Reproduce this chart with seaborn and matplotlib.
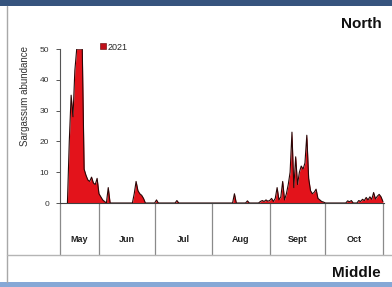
import matplotlib
matplotlib.use('Agg')
import matplotlib.pyplot as plt
import matplotlib.transforms as mtransforms
from matplotlib.lines import Line2D
from matplotlib.patches import Rectangle
import seaborn as sns
import pandas as pd

sns.set_theme(style='white')
plt.rcParams['font.family'] = ['Liberation Sans', 'DejaVu Sans']

# ---- data: day index counted from 11 May 2021, Sargassum abundance ----
may_days = [4, 5, 6, 7, 8, 9, 10, 11, 12, 13, 14, 15, 16, 17, 18, 19, 20, 21, 22, 23, 24, 25, 26, 27]
may_vals = [0, 20, 35, 28, 43, 50, 50, 50, 50, 11, 9, 7.5, 7, 8.4, 6.5, 6, 8, 3, 2, 1, 0.5, 0, 5, 0]
jun_days = [39, 40, 41, 42, 43, 44, 45, 46]
jun_vals = [0, 3, 7, 4, 3, 2.5, 1.5, 0]
jul_days = [51, 52, 53, 62, 63, 64]
jul_vals = [0, 1, 0, 0, 0.8, 0]
aug_days = [93, 94, 95, 100, 101, 102, 107, 108, 109, 110, 111, 112]
aug_vals = [0, 3, 0, 0, 0.7, 0, 0, 0.5, 0.8, 0.5, 1, 0.6]
sep_days = [113, 114, 115, 116, 117, 118, 119, 120, 121, 122, 123, 124, 125, 126, 127, 128,
            129, 130, 131, 132, 133, 134, 135, 136, 137, 138, 139, 140, 141, 142, 143]
sep_vals = [0.8, 1.5, 0.5, 1.5, 5, 1, 2, 7, 1, 3, 6, 10, 23, 5, 15, 6,
            10, 12, 11, 13, 22, 8, 4, 3, 3.5, 4.5, 1.5, 1, 0.5, 0.3, 0]
oct_days = [154, 155, 156, 157, 158, 160, 161, 162, 163, 164, 165, 166, 167, 168, 169, 170,
            171, 172, 173, 174]
oct_vals = [0, 0.7, 0.4, 0.8, 0, 0, 0.8, 0.5, 1.2, 0.8, 1.8, 1, 2, 1.2, 3.4, 1.3,
            2.2, 2.8, 2, 0.5]

months = ['May', 'Jun', 'Jul', 'Aug', 'Sept', 'Oct']
month_starts = [0, 21, 51, 82, 113, 143, 174]   # 11 May, 1 Jun, ..., 1 Nov
yticks = [0, 10, 20, 30, 40, 50]
series_label = '2021'

days = may_days + jun_days + jul_days + aug_days + sep_days + oct_days
vals = may_vals + jun_vals + jul_vals + aug_vals + sep_vals + oct_vals
df = pd.DataFrame({'day': days, 'abundance': vals})

W, H = 392, 287
fig = plt.figure(figsize=(W / 100, H / 100), dpi=100)
fig.patch.set_facecolor('white')

x0, x1, ytop, ybot = 60, 384, 49, 203
ax = fig.add_axes([x0 / W, 1 - ybot / H, (x1 - x0) / W, (ybot - ytop) / H])
ax.set_facecolor('none')

red = '#e3131b'
ax.fill_between(df['day'], df['abundance'], 0, color=red, lw=0, zorder=2)
sns.lineplot(data=df, x='day', y='abundance', color='#2a0606', lw=0.8, ax=ax, zorder=3)

ax.set_xlim(0, 174.6)
ax.set_ylim(0, 50)
ax.set_yticks(yticks)
ax.set_xticks([])
ax.set_xlabel('')
ax.set_ylabel('')
for s in ['top', 'right']:
    ax.spines[s].set_visible(False)
ax.spines['left'].set_color('#555555')
ax.spines['left'].set_linewidth(0.8)
ax.spines['bottom'].set_color('#404040')
ax.spines['bottom'].set_linewidth(0.8)
ax.tick_params(axis='y', direction='out', length=3, width=0.7, color='#555555',
               labelsize=6, pad=5, labelcolor='#333333', left=True)

# month separators and labels below the axis
trans = mtransforms.blended_transform_factory(ax.transData, ax.transAxes)
sep_bottom = -(255 - ybot) / (ybot - ytop)
for m in month_starts:
    ax.add_line(Line2D([m, m], [0, sep_bottom], transform=trans, color='#8a8a8a',
                       lw=0.9, clip_on=False))
lab_y = -(239 - ybot) / (ybot - ytop)
for i, name in enumerate(months):
    mid = (month_starts[i] + month_starts[i + 1]) / 2
    ax.text(mid, lab_y, name, transform=trans, ha='center', va='center',
            fontsize=6.5, fontweight='bold', color='#222222')

# legend
handle = Line2D([], [], marker='s', ls='none', markersize=4.5,
                markerfacecolor='#c0101a', markeredgecolor='#5a0000', markeredgewidth=0.4)
fig.legend([handle], [series_label], loc='center left',
           bbox_to_anchor=(100 / W, 1 - 47 / H), frameon=False, fontsize=6.5,
           handlelength=0.6, handletextpad=0.2, borderpad=0, borderaxespad=0)

# y label
fig.text(25 / W, 1 - 96 / H, 'Sargassum abundance', rotation=90, ha='center',
         va='center', fontsize=7, color='#333333')

# panel titles
fig.text(382 / W, 1 - 24 / H, 'North', ha='right', va='center', fontsize=11,
         fontweight='bold', color='#111111')
fig.text(381 / W, 1 - 273 / H, 'Middle', ha='right', va='center', fontsize=11,
         fontweight='bold', color='#111111')

# frame decorations of the screenshot
fig.add_artist(Rectangle((0, 1 - 6 / H), 1, 6 / H, transform=fig.transFigure,
                         color='#36547e', lw=0))
fig.add_artist(Rectangle((0, 0), 1, 5 / H, transform=fig.transFigure,
                         color='#86a8d6', lw=0))
fig.add_artist(Line2D([7 / W, 7 / W], [5 / H, 1 - 6 / H], transform=fig.transFigure,
                      color='#a8a8a8', lw=1))
fig.add_artist(Line2D([7 / W, 1], [1 - 255 / H, 1 - 255 / H], transform=fig.transFigure,
                      color='#b5b5b5', lw=1))

fig.savefig('out.png', dpi=100, facecolor='white')
